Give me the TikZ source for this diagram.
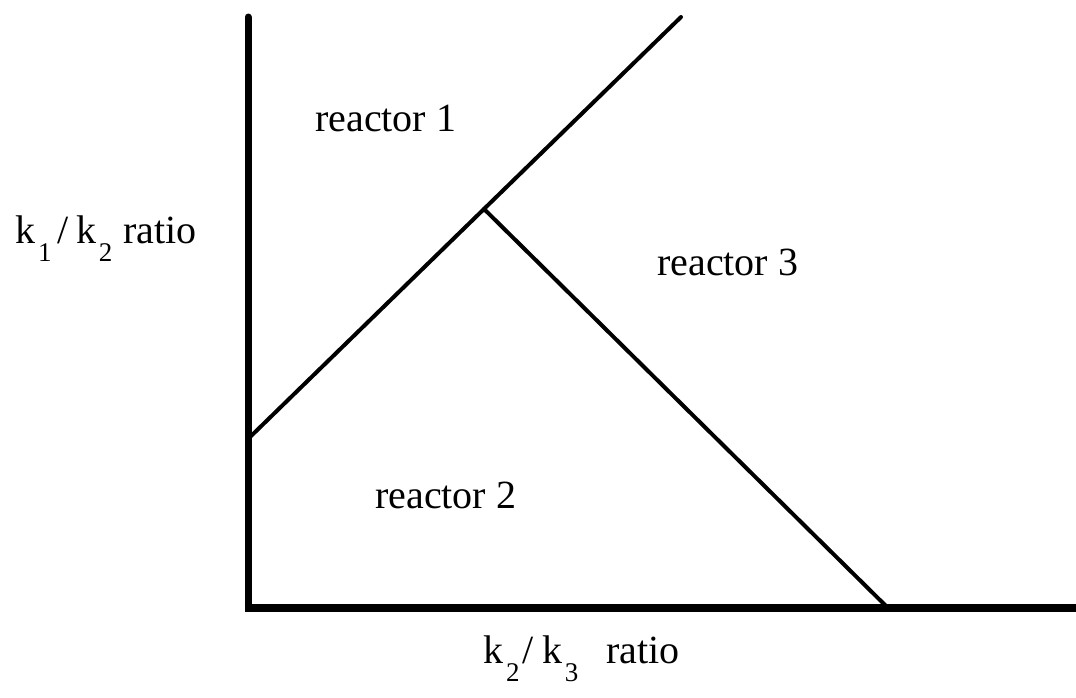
\documentclass[tikz,border=0pt]{standalone}
\usepackage{fontspec}
\setmainfont{Liberation Serif}
\usetikzlibrary{calc}
\newcommand{\lowsub}[1]{\raisebox{-18pt}{\fontsize{27}{28}\selectfont #1}}
\begin{document}
\begin{tikzpicture}[x=1pt,y=-1pt,
  lbl/.style={anchor=base west,inner sep=0pt,font=\fontsize{40}{46}\selectfont},
  axis/.style={line width=7pt},
  bound/.style={line width=4pt,line cap=round}]
\useasboundingbox (0,0) rectangle (1076,697);
\coordinate (top) at (248,17);
\coordinate (origin) at (248,608);
\coordinate (xend) at (1076,608);
\coordinate (a) at (249,438);
\coordinate (b) at (681,17);
\coordinate (j) at ($(a)!0.544!(b)$);
\coordinate (c) at (886,606);
\draw[axis,line cap=round] (top) -- (origin);
\draw[line width=8pt] ([xshift=-3.5pt]origin) -- (xend);
\draw[bound] (a) -- (b);
\draw[bound] (j) -- (c);
\node[lbl] (r1) at (315,131) {reactor 1};
\node[lbl] (r3) at (657,275) {reactor 3};
\node[lbl] (r2) at (375,508) {reactor 2};
\node[lbl] (ylab) at (15,243) {k\kern3pt\lowsub{1}\kern6pt/\kern8pt k\kern2pt\lowsub{2}\kern11pt ratio};
\node[lbl] (xlab) at (483,663) {k\kern3pt\lowsub{2}\kern3pt/\kern9pt k\kern2pt\lowsub{3}\kern28pt ratio};
\end{tikzpicture}
\end{document}
